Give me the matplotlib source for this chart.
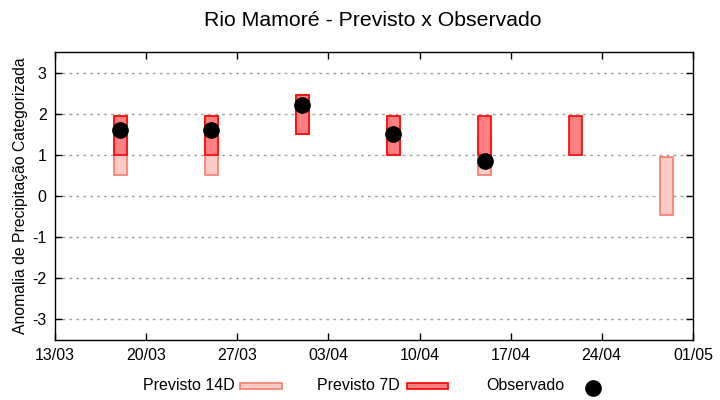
import datetime as dt
import numpy as np
import matplotlib
matplotlib.use('Agg')
import matplotlib.pyplot as plt
import matplotlib.dates as mdates
from matplotlib.patches import Rectangle
from matplotlib.lines import Line2D

plt.rcParams['font.family'] = ['Liberation Sans', 'DejaVu Sans']
plt.rcParams['axes.unicode_minus'] = False

# weekly forecast dates
dates = ['2024-03-18', '2024-03-25', '2024-04-01', '2024-04-08',
         '2024-04-15', '2024-04-22', '2024-04-29']

# 14-day forecast range (low, high)
prev14_low = [0.5, 0.5, 1.5, 1.0, 0.5, np.nan, -0.45]
prev14_high = [1.95, 1.95, 2.45, 1.95, 1.45, np.nan, 0.95]

# 7-day forecast range (low, high)
prev7_low = [1.0, 1.0, 1.5, 1.0, 1.0, 1.0, np.nan]
prev7_high = [1.95, 1.95, 2.45, 1.95, 1.95, 1.95, np.nan]

# observed anomaly
observado = [1.6, 1.6, 2.2, 1.5, 0.85, np.nan, np.nan]

x_ticks = ['2024-03-13', '2024-03-20', '2024-03-27', '2024-04-03',
           '2024-04-10', '2024-04-17', '2024-04-24', '2024-05-01']

c14_face = '#fdcbc6'
c14_edge = '#f57b6e'
c7_face = '#ff8080'
c7_edge = '#ff0000'

x = mdates.date2num([dt.datetime.fromisoformat(d) for d in dates])
xt = mdates.date2num([dt.datetime.fromisoformat(d) for d in x_ticks])
width = 1.0

W, H = 720, 400
fig = plt.figure(figsize=(7.2, 4.0), dpi=100)
ax = fig.add_axes([0.0764, 0.15, 0.886, 0.72])

for xi, lo, hi in zip(x, prev14_low, prev14_high):
    if np.isnan(lo):
        continue
    ax.bar(xi, hi - lo, bottom=lo, width=width, color=c14_face,
           edgecolor=c14_edge, linewidth=1.2, zorder=2)

for xi, lo, hi in zip(x, prev7_low, prev7_high):
    if np.isnan(lo):
        continue
    ax.bar(xi, hi - lo, bottom=lo, width=width, color=c7_face,
           edgecolor=c7_edge, linewidth=1.2, zorder=3)

ax.plot(x, observado, 'o', color='black', markersize=11, zorder=4)

ax.set_xlim(xt[0], xt[-1])
ax.set_ylim(-3.5, 3.5)
ax.set_xticks(xt)
ax.set_xticklabels([dt.datetime.fromisoformat(d).strftime('%d/%m') for d in x_ticks])
ax.set_yticks(range(-3, 4))
ax.tick_params(direction='in', top=True, right=True, length=5, width=1,
               labelsize=11.5, pad=6)
ax.grid(axis='y', color='#a0a0a0', linestyle=(0, (2, 3)), linewidth=1, zorder=0)
ax.set_axisbelow(True)
for s in ax.spines.values():
    s.set_linewidth(1)

ax.set_ylabel('Anomalia de Precipitação Categorizada', fontsize=11.3)
ax.yaxis.set_label_coords(-0.043, 0.5)
fig.text(373 / W, 1 - 20 / H, 'Rio Mamoré - Previsto x Observado', fontsize=15.3,
         ha='center', va='center')

# legend drawn by hand, gnuplot style: text first, then sample
ly = 1 - 386 / H
fig.text(143 / W, ly, 'Previsto 14D', fontsize=11.5, va='center', ha='left')
fig.add_artist(Rectangle((240 / W, ly - 3 / H), 42 / W, 6 / H, transform=fig.transFigure,
                         facecolor=c14_face, edgecolor=c14_edge, linewidth=1.2))
fig.text(317 / W, ly, 'Previsto 7D', fontsize=11.5, va='center', ha='left')
fig.add_artist(Rectangle((407 / W, ly - 3 / H), 41 / W, 6 / H, transform=fig.transFigure,
                         facecolor=c7_face, edgecolor=c7_edge, linewidth=1.2))
fig.text(486 / W, ly, 'Observado', fontsize=11.5, va='center', ha='left')
fig.add_artist(Line2D([593 / W], [ly - 2 / H], transform=fig.transFigure, marker='o',
                      color='black', markersize=11, linestyle='none'))

fig.savefig('out.png', dpi=100)
